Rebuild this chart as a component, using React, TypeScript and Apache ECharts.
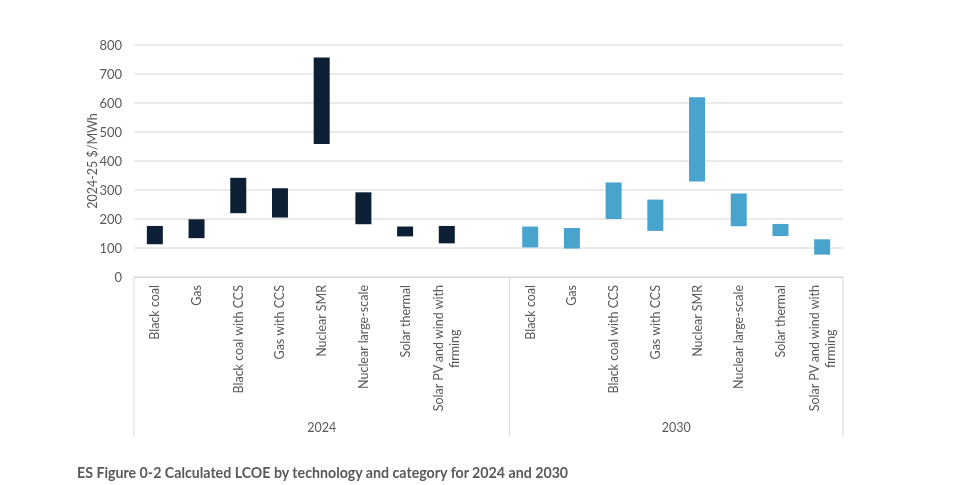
import React, { useEffect, useRef } from "react";
import * as echarts from "echarts";

const techNames = [
  "Black coal",
  "Gas",
  "Black coal with CCS",
  "Gas with CCS",
  "Nuclear SMR",
  "Nuclear large-scale",
  "Solar thermal",
  "Solar PV and wind with firming",
];
const groupLabels = ["2024", "2030"];
const low2024 = [113, 134, 220, 205, 459, 182, 140, 116];
const high2024 = [176, 199, 342, 306, 757, 292, 174, 176];
const low2030 = [102, 98, 200, 159, 329, 175, 141, 77];
const high2030 = [174, 169, 326, 267, 620, 288, 183, 130];
const yTicks = [0, 100, 200, 300, 400, 500, 600, 700, 800];

const FONT = "Lato, 'Open Sans', sans-serif";
const GREY = "#595959";

export default function App() {
  const ref = useRef<HTMLDivElement>(null);
  useEffect(() => {
    if (!ref.current) return;
    const chart = echarts.init(ref.current, undefined, { renderer: "svg" });
    // categories: 2024 group (8 + one empty slot), then 2030 group
    const categories = [...techNames, "", ...techNames];
    const n2024 = techNames.length + 1;
    const base = [...low2024, "-", ...low2030];
    const r2024 = [
      ...high2024.map((h, i) => h - low2024[i]),
      "-",
      ...low2030.map(() => "-"),
    ];
    const r2030 = [
      ...low2024.map(() => "-"),
      "-",
      ...high2030.map((h, i) => h - low2030[i]),
    ];
    const option: any = {
      animation: false,
      title: {
        text: "ES Figure 0-2 Calculated LCOE by technology and category for 2024 and 2030",
        left: 72,
        top: 460,
        textStyle: { fontFamily: FONT, fontSize: 14.2, fontWeight: "bold", color: GREY },
      },
      grid: { left: 134, right: 123, top: 45, bottom: 208 },
      xAxis: {
        type: "category",
        data: categories,
        axisLine: { lineStyle: { color: "#d9d9d9", width: 1 } },
        axisTick: { show: false },
        axisLabel: {
          interval: 0,
          rotate: 90,
          margin: 8,
          color: GREY,
          fontFamily: FONT,
          fontSize: 12.5,
          formatter: (v: string) =>
            v === "Solar PV and wind with firming"
              ? "{a|Solar PV and wind with}\n{b|firming}"
              : v,
          rich: {
            a: { fontFamily: FONT, fontSize: 12.5, color: GREY, lineHeight: 16 },
            b: { fontFamily: FONT, fontSize: 12.5, color: GREY, lineHeight: 16, align: "center" },
          },
        },
      },
      yAxis: {
        type: "value",
        min: yTicks[0],
        max: yTicks[yTicks.length - 1],
        interval: 100,
        name: "2024-25 $/MWh",
        nameLocation: "middle",
        nameGap: 35,
        nameMoveOverlap: false,
        nameTextStyle: { fontFamily: FONT, fontSize: 12.5, color: GREY },
        axisLine: { show: false },
        axisTick: { show: false },
        axisLabel: { margin: 12, color: GREY, fontFamily: FONT, fontSize: 13 },
        splitLine: { lineStyle: { color: "#e3e3e3", width: 1.5 } },
      },
      series: [
        {
          type: "bar",
          stack: "r",
          data: base,
          barWidth: 16,
          itemStyle: { color: "transparent" },
          silent: true,
        },
        {
          type: "bar",
          stack: "r",
          data: r2024,
          barWidth: 16,
          itemStyle: { color: "#0d1f35" },
        },
        {
          type: "bar",
          stack: "r",
          data: r2030,
          barWidth: 16,
          itemStyle: { color: "#48a3cd" },
        },
      ],
    };
    chart.setOption(option);

    const c0 = chart.convertToPixel({ xAxisIndex: 0 }, 0) as number;
    const c1 = chart.convertToPixel({ xAxisIndex: 0 }, 1) as number;
    const bw = c1 - c0;
    const xStart = c0 - bw / 2;
    const xMid = (chart.convertToPixel({ xAxisIndex: 0 }, n2024) as number) - bw / 2;
    const xEnd =
      (chart.convertToPixel({ xAxisIndex: 0 }, categories.length - 1) as number) + bw / 2;
    const yTop = chart.convertToPixel({ yAxisIndex: 0 }, 0) as number;
    const yBot = yTop + 160;
    const lineStyle = { stroke: "#d9d9d9", lineWidth: 1 };
    chart.setOption({
      graphic: [
        ...[xStart, xMid, xEnd].map((x) => ({
          type: "line",
          shape: { x1: x, y1: yTop, x2: x, y2: yBot },
          style: lineStyle,
          silent: true,
        })),
        ...groupLabels.map((g, i) => ({
          type: "text",
          x: i === 0 ? (xStart + xMid) / 2 : (xMid + xEnd) / 2,
          y: yTop + 150,
          style: {
            text: g,
            fill: GREY,
            font: `12.5px ${FONT}`,
            textAlign: "center",
            textVerticalAlign: "middle",
          },
        })),
      ],
    });
    return () => chart.dispose();
  }, []);
  return (
    <div
      ref={ref}
      style={{ position: "fixed", left: 0, top: 0, width: 966, height: 485 }}
    />
  );
}
